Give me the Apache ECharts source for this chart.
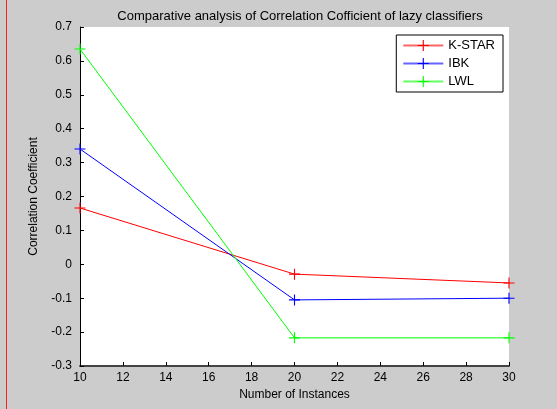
<html>
<head>
  <meta charset="utf-8">
  <style>
    html, body { margin: 0; padding: 0; background: #cccccc; }
    #container { width: 557px; height: 409px; }
  </style>
</head>
<body>
<div id="container"></div>
<script type="text/javascript" src="https://fastly.jsdelivr.net/npm/echarts@6.0.0/dist/echarts.min.js"></script>
<script type="text/javascript">
  var dom = document.getElementById('container');
  var myChart = echarts.init(dom, null, { renderer: 'canvas' });

  // instances on the x axis
  const instances = [10, 20, 30];
  const kstar = [0.166, -0.029, -0.055];
  const ibk = [0.34, -0.105, -0.10];
  const lwl = [0.635, -0.217, -0.217];

  const names = ['K-STAR', 'IBK', 'LWL'];
  const colors = ['#ff0000', '#0000ff', '#00ff00'];

  const plus = 'path://M4.5,0H5.5V10H4.5ZM0,4.5H10V5.5H0Z';
  const font = 'Liberation Sans';

  function mk(name, vals, color) {
    return {
      name: name,
      type: 'line',
      data: instances.map((x, i) => [x, vals[i]]),
      symbol: plus,
      symbolSize: 11,
      showSymbol: true,
      lineStyle: { color: color, width: 1 },
      itemStyle: { color: color },
      emphasis: { disabled: true },
      animation: false
    };
  }

  var option = {
    backgroundColor: '#cccccc',
    title: {
      text: 'Comparative analysis of Correlation Cofficient of lazy classifiers',
      left: 295, top: 5, textAlign: 'center',
      textStyle: { fontFamily: font, fontSize: 13, fontWeight: 'normal', color: '#000' }
    },
    legend: {
      orient: 'vertical',
      right: 54, top: 35,
      backgroundColor: '#fff',
      borderColor: '#000', borderWidth: 1,
      padding: [4, 8, 4, 6],
      itemGap: 5,
      itemWidth: 40, itemHeight: 14,
      textStyle: { fontFamily: font, fontSize: 13, color: '#000' },
      data: names.map((n, i) => ({
        name: n,
        itemStyle: { color: colors[i] },
        lineStyle: { color: colors[i], width: 2, opacity: 0.6 }
      }))
    },
    grid: {
      left: 80, right: 48, top: 27, bottom: 43,
      show: true, backgroundColor: '#fff', borderWidth: 0
    },
    xAxis: {
      type: 'value', min: 10, max: 30, interval: 2,
      name: 'Number of Instances', nameLocation: 'middle', nameGap: 22,
      nameTextStyle: { fontFamily: font, fontSize: 12, color: '#000' },
      axisLine: { onZero: false, lineStyle: { color: '#444', width: 2 } },
      axisTick: { inside: true, length: 4, lineStyle: { color: '#000' } },
      axisLabel: { fontFamily: font, fontSize: 12, color: '#000', margin: 6 },
      splitLine: { show: false }
    },
    yAxis: {
      type: 'value', min: -0.3, max: 0.7, interval: 0.1,
      name: 'Correlation Coefficient', nameLocation: 'middle', nameGap: 40,
      nameTextStyle: { fontFamily: font, fontSize: 12, color: '#000' },
      axisLine: { show: true, lineStyle: { color: '#000', width: 1 } },
      axisTick: { show: true, inside: true, length: 4, lineStyle: { color: '#000' } },
      axisLabel: {
        fontFamily: font, fontSize: 12, color: '#000', margin: 8,
        formatter: (v) => String(parseFloat(v.toFixed(1)))
      },
      splitLine: { show: false }
    },
    graphic: [
      { type: 'line', shape: { x1: 6.5, y1: 0, x2: 6.5, y2: 409 }, style: { stroke: '#ff2020', lineWidth: 1 } }
    ],
    series: [
      mk(names[0], kstar, colors[0]),
      mk(names[1], ibk, colors[1]),
      mk(names[2], lwl, colors[2])
    ]
  };

  myChart.setOption(option);
</script>
</body>
</html>
